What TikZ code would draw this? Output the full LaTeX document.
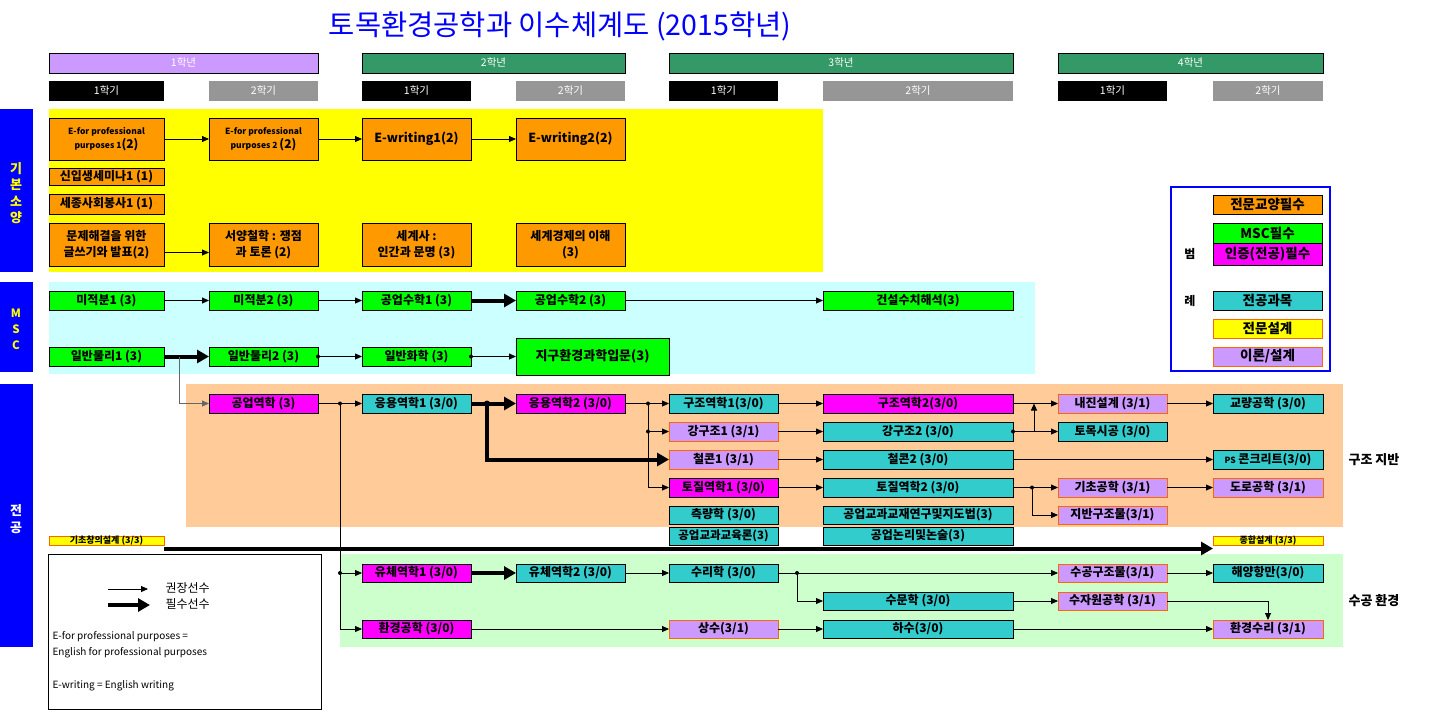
\documentclass[tikz,border=0pt]{standalone}
\usepackage{fontspec}
\setmainfont{Noto Sans CJK KR}
\usetikzlibrary{arrows.meta}
\definecolor{cOr}{HTML}{FF9900}
\definecolor{cGr}{HTML}{00FF00}
\definecolor{cMg}{HTML}{FF00FF}
\definecolor{cCy}{HTML}{33CCCC}
\definecolor{cLv}{HTML}{CC99FF}
\definecolor{cYl}{HTML}{FFFF00}
\definecolor{cBd}{HTML}{FF6600}
\definecolor{cYr}{HTML}{339966}
\definecolor{cSg}{HTML}{969696}
\definecolor{bgY}{HTML}{FFFF00}
\definecolor{bgC}{HTML}{CCFFFF}
\definecolor{bgP}{HTML}{FFCC99}
\definecolor{bgG}{HTML}{CCFFCC}
\definecolor{cBl}{HTML}{0000FF}
\newcommand\B[7]{\node[#1, minimum width={#5-#3}, minimum height={#6-#4}] (#2) at ({(#3+#5)/2},{(#4+#6)/2}) {#7};}
\tikzset{
  box/.style={draw=black, line width=0.8pt, inner sep=0pt, outer sep=0pt, align=center, font=\bfseries\fontsize{12}{14}\selectfont},
  orb/.style={box, fill=cOr},
  grb/.style={box, fill=cGr},
  mgb/.style={box, fill=cMg},
  cyb/.style={box, fill=cCy},
  lvb/.style={box, fill=cLv, draw=cBd},
  ylb/.style={box, fill=cYl, draw=cBd},
  hdr/.style={draw=black, line width=0.6pt, inner sep=0pt, text=white, font=\fontsize{10.5}{12}\selectfont},
  semb/.style={inner sep=0pt, text=white, font=\fontsize{10.5}{12}\selectfont},
  lgf/.style={font=\bfseries\fontsize{13.5}{15}\selectfont},
  ln/.style={draw=black, line width=0.8pt},
  ar/.style={draw=black, line width=0.8pt, -{Triangle[length=7pt,width=6pt]}},
  tk/.style={draw=black, line width=4pt, -{Triangle[length=12pt,width=13pt]}},
  dotc/.style={fill=black}
}
\begin{document}
\begin{tikzpicture}[x=1pt,y=-1pt]
\useasboundingbox (0,0) rectangle (1455,720);
\fill[white] (0,0) rectangle (1455,720);
% backgrounds
\fill[bgY] (49,109) rectangle (823,272);
\fill[bgC] (49,282) rectangle (1035,374);
\fill[bgP] (186,384) rectangle (1343,527);
\fill[bgG] (340,554) rectangle (1343,647);
% left bars
\B{fill=cBl, inner sep=0pt}{bar1}{0}{109}{33}{272}{}
\B{fill=cBl, inner sep=0pt}{bar2}{0}{282}{33}{372}{}
\B{fill=cBl, inner sep=0pt}{bar3}{0}{384}{33}{647}{}
\node[text=cYl, align=center, font=\bfseries\fontsize{13}{16.5}\selectfont] (t1) at (16,193) {기\\본\\소\\양};
\node[text=cYl, align=center, font=\bfseries\fontsize{11.5}{16}\selectfont] (t2) at (16,329) {M\\S\\C};
\node[text=white, align=center, font=\bfseries\fontsize{13}{17}\selectfont] (t3) at (16,519) {전\\공};
% title
\node[text=cBl, font=\fontsize{28.5}{32}\selectfont] (title) at (560,26) {토목환경공학과 이수체계도 (2015학년)};
% year headers
\B{hdr, fill=cLv}{y1}{49}{53}{318}{73}{1학년}
\B{hdr, fill=cYr}{y2}{362}{53}{625}{73}{2학년}
\B{hdr, fill=cYr}{y3}{669}{53}{1013}{73}{3학년}
\B{hdr, fill=cYr}{y4}{1058}{53}{1323}{73}{4학년}
\B{semb, fill=black}{s11}{49}{81}{164}{101}{1학기}
\B{semb, fill=cSg}{s12}{209}{81}{318}{101}{2학기}
\B{semb, fill=black}{s21}{362}{81}{471}{101}{1학기}
\B{semb, fill=cSg}{s22}{516}{81}{625}{101}{2학기}
\B{semb, fill=black}{s31}{669}{81}{778}{101}{1학기}
\B{semb, fill=cSg}{s32}{823}{81}{1013}{101}{2학기}
\B{semb, fill=black}{s41}{1058}{81}{1167}{101}{1학기}
\B{semb, fill=cSg}{s42}{1213}{81}{1323}{101}{2학기}
% basic
\B{orb, font=\bfseries\fontsize{8.5}{14}\selectfont}{ep1}{49}{118}{164}{160}{E-for professional\\purposes 1{\fontsize{12}{14}\selectfont(2)}}
\B{orb, font=\bfseries\fontsize{8.5}{14}\selectfont}{ep2}{209}{118}{318}{160}{E-for professional\\purposes 2 {\fontsize{12}{14}\selectfont(2)}}
\B{orb, font=\bfseries\fontsize{12.5}{14}\selectfont}{ew1}{362}{118}{471}{160}{E-writing1(2)}
\B{orb, font=\bfseries\fontsize{12.5}{14}\selectfont}{ew2}{516}{118}{625}{160}{E-writing2(2)}
\B{orb}{sem}{49}{168}{164}{185}{신입생세미나1 (1)}
\B{orb}{sjs}{49}{194}{164}{214}{세종사회봉사1 (1)}
\B{orb, font=\bfseries\fontsize{12}{16}\selectfont}{mj}{49}{223}{164}{266}{문제해결을 위한\\글쓰기와 발표(2)}
\B{orb, font=\bfseries\fontsize{12}{16}\selectfont}{sy}{209}{223}{318}{266}{서양철학 : 쟁점\\과 토론 (2)}
\B{orb, font=\bfseries\fontsize{12}{16}\selectfont}{ss}{362}{223}{471}{266}{세계사 :\\인간과 문명 (3)}
\B{orb, font=\bfseries\fontsize{12}{16}\selectfont}{sg}{516}{223}{625}{266}{세계경제의 이해\\(3)}
% MSC
\B{grb}{mi1}{49}{291}{164}{310}{미적분1 (3)}
\B{grb}{mi2}{209}{291}{318}{310}{미적분2 (3)}
\B{grb}{gs1}{362}{291}{471}{310}{공업수학1 (3)}
\B{grb}{gs2}{516}{291}{625}{310}{공업수학2 (3)}
\B{grb}{gcs}{823}{291}{1013}{310}{건설수치해석(3)}
\B{grb}{ph1}{49}{347}{164}{366}{일반물리1 (3)}
\B{grb}{ph2}{209}{347}{318}{366}{일반물리2 (3)}
\B{grb}{chem}{362}{347}{471}{366}{일반화학 (3)}
\B{grb, font=\bfseries\fontsize{13}{15}\selectfont}{earth}{516}{338}{669}{375}{지구환경과학입문(3)}
% major - structure/geotech
\B{mgb}{gy}{209}{394}{318}{413}{공업역학 (3)}
\B{cyb}{ey1}{362}{394}{471}{413}{응용역학1 (3/0)}
\B{mgb}{ey2}{516}{394}{625}{413}{응용역학2 (3/0)}
\B{cyb}{gj1}{669}{394}{778}{413}{구조역학1(3/0)}
\B{mgb}{gj2}{823}{394}{1013}{413}{구조역학2(3/0)}
\B{lvb}{nj}{1058}{394}{1167}{413}{내진설계 (3/1)}
\B{cyb}{bridge}{1213}{394}{1323}{413}{교량공학 (3/0)}
\B{lvb}{gg1}{669}{422}{778}{441}{강구조1 (3/1)}
\B{cyb}{gg2}{823}{422}{1013}{441}{강구조2 (3/0)}
\B{cyb}{tms}{1058}{422}{1167}{441}{토목시공 (3/0)}
\B{lvb}{rc1}{669}{450}{778}{469}{철콘1 (3/1)}
\B{cyb}{rc2}{823}{450}{1013}{469}{철콘2 (3/0)}
\B{cyb}{psc}{1213}{450}{1323}{469}{{\fontsize{8.5}{10}\selectfont PS} 콘크리트(3/0)}
\B{mgb}{tj1}{669}{478}{778}{497}{토질역학1 (3/0)}
\B{cyb}{tj2}{823}{478}{1013}{497}{토질역학2 (3/0)}
\B{lvb}{gch}{1058}{478}{1167}{497}{기초공학 (3/1)}
\B{lvb}{road}{1213}{478}{1323}{497}{도로공학 (3/1)}
\B{cyb}{sur}{669}{506}{778}{524}{측량학 (3/0)}
\B{cyb}{gkj}{823}{506}{1013}{524}{공업교과교재연구및지도법(3)}
\B{lvb}{jbg}{1058}{506}{1167}{524}{지반구조물(3/1)}
\B{cyb, font=\bfseries\fontsize{11.5}{13}\selectfont}{gke}{669}{527}{778}{545}{공업교과교육론(3)}
\B{cyb}{gnl}{823}{527}{1013}{545}{공업논리및논술(3)}
\B{ylb, font=\bfseries\fontsize{9}{9}\selectfont, text height=6.5pt, text depth=1pt}{gcd}{49}{536}{164}{545}{기초창의설계 (3/3)}
\B{ylb, font=\bfseries\fontsize{9}{9}\selectfont, text height=6.5pt, text depth=1pt}{jhd}{1213}{536}{1323}{545}{종합설계 (3/3)}
% major - hydro/env
\B{mgb}{fl1}{362}{564}{471}{582}{유체역학1 (3/0)}
\B{cyb}{fl2}{516}{564}{625}{582}{유체역학2 (3/0)}
\B{cyb}{srh}{669}{564}{778}{582}{수리학 (3/0)}
\B{lvb}{sgj}{1058}{564}{1167}{582}{수공구조물(3/1)}
\B{cyb}{hyh}{1213}{564}{1323}{582}{해양항만(3/0)}
\B{cyb}{smh}{823}{592}{1013}{610}{수문학 (3/0)}
\B{lvb}{sjw}{1058}{592}{1167}{610}{수자원공학 (3/1)}
\B{mgb}{env}{362}{620}{471}{638}{환경공학 (3/0)}
\B{lvb}{ss1}{669}{620}{778}{638}{상수(3/1)}
\B{cyb}{hs}{823}{620}{1013}{638}{하수(3/0)}
\B{lvb}{hsr}{1213}{620}{1323}{638}{환경수리 (3/1)}
% side labels
\node[anchor=west, font=\bfseries\fontsize{13}{15}\selectfont] (lab1) at (1345,460) {구조 지반};
\node[anchor=west, font=\bfseries\fontsize{13}{15}\selectfont] (lab2) at (1345,601) {수공 환경};
% legend right
\B{draw=cBl, line width=2pt}{legbox}{1171}{187}{1330}{371}{}
\node[font=\bfseries\fontsize{12}{14}\selectfont] (beom) at (1190,254) {범};
\node[font=\bfseries\fontsize{12}{14}\selectfont] (rye) at (1190,301) {례};
\B{orb, lgf}{lg1}{1213}{195}{1322}{214}{전문교양필수}
\B{grb, lgf}{lg2}{1213}{223}{1322}{243}{MSC필수}
\B{mgb, lgf}{lg3}{1213}{243}{1322}{265}{인증(전공)필수}
\B{cyb, lgf}{lg4}{1213}{291}{1322}{310}{전공과목}
\B{ylb, lgf}{lg5}{1213}{319}{1322}{338}{전문설계}
\B{lvb, lgf}{lg6}{1213}{347}{1322}{366}{이론/설계}
% legend bottom-left
\B{draw=black, fill=white, line width=0.8pt}{leg}{48}{554}{321}{709}{}
\coordinate (la1) at (108,589);
\coordinate (la2) at (148,589);
\coordinate (lb1) at (108,605);
\coordinate (lb2) at (150,605);
\draw[ar] (la1) -- (la2);
\draw[tk] (lb1) -- (lb2);
\node[anchor=west, font=\fontsize{12}{14}\selectfont] (lt1) at (162,588) {권장선수};
\node[anchor=west, font=\fontsize{12}{14}\selectfont] (lt2) at (162,604) {필수선수};
\node[anchor=west, font=\fontsize{10}{12}\selectfont] (lt3) at (49,637) {E-for professional purposes =};
\node[anchor=west, font=\fontsize{10}{12}\selectfont] (lt4) at (49,653) {English for professional purposes};
\node[anchor=west, font=\fontsize{10}{12}\selectfont] (lt5) at (49,686) {E-writing = English writing};
% connectors: basic
\draw[ar] (ep1) -- (ep2);
\draw[ar] (ep2) -- (ew1);
\draw[ar] (ew1) -- (ew2);
\draw[ar] ([yshift=-8pt]mj.east) -- ([yshift=-8pt]sy.west);
% MSC
\draw[ar] (mi1) -- (mi2);
\draw[ar] (mi2) -- (gs1);
\draw[tk] (gs1) -- (gs2);
\draw[ar] (gs2) -- (gcs);
\draw[tk] (ph1) -- (ph2);
\draw[ar] (ph2) -- (chem);
\fill (ph2.east) circle (2pt);
\draw[ar] (chem) -- (earth);
\fill (chem.east) circle (2pt);
\coordinate (k0) at (179,356.5);
\draw[ar, draw=gray!80!black] (k0) |- (gy);
% structure
\coordinate (j1) at (340,403.5);
\coordinate (j1b) at (340,573);
\coordinate (j1c) at (340,629);
\draw[ln] (gy) -- (j1);
\draw[ar] (j1) -- (ey1);
\draw[ln] (j1) -- (j1c);
\draw[ar] (j1b) -- (fl1);
\draw[ar] (j1c) -- (env);
\fill (j1) circle (2pt);
\fill (j1b) circle (2pt);
\draw[tk] (ey1) -- (ey2);
\coordinate (j2) at (487,403.5);
\draw[tk, line join=miter] (j2) |- (rc1);
\fill (j2) circle (3pt);
\coordinate (j3) at (648,403.5);
\coordinate (j3b) at (648,431.5);
\coordinate (j3d) at (648,487.5);
\draw[ln] (ey2) -- (j3);
\draw[ar] (j3) -- (gj1);
\draw[ln] (j3) -- (j3d);
\draw[ar] (j3b) -- (gg1);
\draw[ar] (j3d) -- (tj1);
\fill (j3) circle (2pt);
\fill (j3b) circle (2pt);
\draw[ar] (gj1) -- (gj2);
\draw[ar] (gg1) -- (gg2);
\draw[ar] (rc1) -- (rc2);
\draw[ar] (tj1) -- (tj2);
\draw[ar] (gj2) -- (nj);
\draw[ar] (nj) -- (bridge);
\draw[ar] (gg2) -- (tms);
\fill (gg2.east) circle (2pt);
\coordinate (j4) at (1034,431.5);
\coordinate (j4t) at (1034,403.5);
\draw[ar] (j4) -- (j4t);
\draw[ar] (rc2) -- (psc);
\coordinate (j5) at (1032,487.5);
\draw[ar] (tj2) -- (gch);
\draw[ar] (j5) |- (jbg);
\fill (j5) circle (2pt);
\draw[ar] (gch) -- (road);
\draw[tk] ([yshift=-3.5pt]gcd.south east) -- ([yshift=-3.5pt]jhd.south west);
% hydro
\draw[tk] (fl1) -- (fl2);
\draw[ar] (fl2) -- (srh);
\draw[ar] (srh) -- (sgj);
\coordinate (j6) at (797,573);
\draw[ar] (j6) |- (smh);
\fill (j6) circle (2pt);
\draw[ar] (smh) -- (sjw);
\draw[ar] (sgj) -- (hyh);
\draw[ar] (sjw) -| (hsr);
\draw[ar] (env) -- (ss1);
\draw[ar] (ss1) -- (hs);
\draw[ar] (hs) -- (hsr);
\end{tikzpicture}
\end{document}
